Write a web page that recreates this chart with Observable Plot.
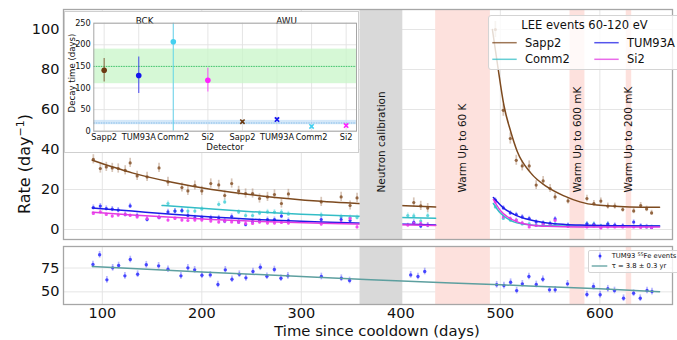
<!DOCTYPE html>
<html>
<head>
<meta charset="utf-8">
<script src="https://cdn.jsdelivr.net/npm/d3@7"></script>
<script src="https://cdn.jsdelivr.net/npm/@observablehq/plot@0.6"></script>
<style>
  html, body { margin: 0; padding: 0; background: #fff; }
  #fig { position: relative; width: 677px; height: 340px; overflow: hidden; font-family: "DejaVu Sans", sans-serif; color: #111; }
  #fig .abs { position: absolute; }
  #fig svg { display: block; overflow: visible; }
  .rot { transform: rotate(-90deg); transform-origin: 50% 50%; text-align: center; white-space: nowrap; }
</style>
</head>
<body>
<div id="fig"></div>
<script>
// ---------------- DATA ----------------
const xTicks = [100, 200, 300, 400, 500, 600];
const topYTicks = [0, 20, 40, 60, 80, 100];
const bottomYTicks = [50, 75];
const insetYTicks = [0, 50, 100, 150, 200, 250];

const legendTitle = "LEE events 60-120 eV";
const legendOrder = ["Sapp2", "Comm2", "TUM93A", "Si2"];

// shaded periods (days)
const neutronBand = [{label: "Neutron calibration", start: 359, end: 402}];
const warmBands = [
  {label: "Warm Up to 60 K", start: 435, end: 490},
  {label: "Warm Up to 600 mK", start: 570, end: 585},
  {label: "Warm Up to 200 mK", start: 626.5, end: 632}
];

// LEE rates before the 60 K warm-up
const preDays = [91, 98, 104, 110, 116, 123, 128, 135, 145, 157, 166, 173, 180, 186, 193, 200, 209, 217, 223, 230, 237, 244, 251, 258, 266, 273, 280, 287, 320, 340, 349, 356, 407, 413, 420, 427];
const sapp2Pre = [35.1, 30.5, 31.3, 30.8, 30.5, 29.6, 33.3, 26.8, 26.3, 30.8, 23.8, null, 21, 19.3, 22, 19.3, 23, 22.3, 17, 23, 19.3, 18, 18, 15.5, 16.3, 17.5, 13, 17.8, 13.8, 16.3, 12, 15.8, null, 13.5, 11.8, 10.7];
const comm2Pre = [null, null, null, null, null, null, null, null, null, null, 13, 9.2, 9.2, 9.2, 9.2, 10.3, null, 12.6, 13.8, null, 8.7, 7, 7, 8.2, 8.8, 8.7, 8.7, 7.8, 7.3, 6.3, 6, 6, 7, 6.8, 4.2, 7];
const tum93aPre = [11, 11.7, 10.5, 10.2, 9.7, 7.5, 11.8, 7, 5, 6, 8.8, 9.2, 9.5, 7, 5.8, 5.8, 5.8, 5.8, 4.2, 6.5, 3.8, 2.5, 4, 4.2, 5, 5, 6.7, 4.5, 5, 5, 4.5, null, null, 3.6, 1.7, 2.2];
const si2Pre = [8, 8.8, 7.5, 6.7, 7.2, 7.5, 7, 6.3, 5.5, 6, 4.7, 5.5, 4.7, 4.5, 4.7, 4.7, 4.2, 3.7, 4.2, 3.8, 3.6, 3, 3, 3.7, 3.2, 3.2, 3.5, 3.2, 2.7, 3.5, 5.5, 1.3, 2.2, 3, 3, 2.2];

// LEE rates after the 60 K warm-up
const postDays = [495, 503, 510, 516, 522, 529, 536, 543, 550, 555, 568, 587, 594, 601, 608, 615, 623, 634, 641, 647, 652];
const sapp2Post = [100, 59.6, 45.5, 34.6, 31.8, 31.8, 22.2, 24.3, 20.5, 16.3, 14.3, 15.5, 13, 14.2, 11.7, 11.7, 10, 9.3, 12, 10.3, 8.3];
const comm2Post = [11.3, 5.5, 4.7, 4.7, 2.8, 2.8, 2, 2.8, 2.8, 2.8, 2, 3, 2.8, 1.8, 2.8, 1.8, 1.5, 1.5, 1.5, 1.2, 1.2];
const tum93aPost = [14.7, 10.8, 8.3, 7.5, 6.3, 5.5, 3.8, 3.3, 3, 5.3, 2.2, 2.7, 2.5, 1.3, 2.7, 2.2, 1.8, 3.7, 1.8, 1.5, 1];
const si2Post = [13.8, 6.3, 5.5, 4.7, 3.3, 1.3, 2, 2.5, 2, 4.5, 1.5, 1.3, 1.8, 0.8, 1.3, 1.3, 1.3, 1.3, 1, 1.3, 1];

// error half-widths (rate units)
const preErr = {Sapp2: 2.3, Comm2: 1.3, TUM93A: 1.3, Si2: 1.0};
const postErr = {Comm2: 1.0, TUM93A: 1.1, Si2: 0.9};
const sapp2PostErr = [4, 3, 2.8, 2.5, 2.5, 2.5, 2.2, 2.2, 2, 1.8, 1.6, 1.6, 1.5, 1.5, 1.5, 1.5, 1.4, 1.4, 1.5, 1.4, 1.3];

// fitted decay curves
const fitPreDays = [90, 130, 170, 210, 260, 320, 380, 435];
const sapp2FitPre = [34.6, 28.3, 23.6, 20.0, 16.8, 14.1, 12.4, 11.3];
const tum93aFitPre = [10.8, 9.2, 7.6, 6.2, 4.9, 3.7, 2.9, 2.3];
const si2FitPre = [8.6, 7.3, 6.1, 5.0, 4.0, 3.1, 2.5, 2.0];
const comm2FitPreDays = [160, 200, 250, 300, 350, 400, 435];
const comm2FitPre = [12.0, 10.6, 8.9, 7.6, 6.7, 6.0, 5.6];

const sapp2FitPostDays = [492, 497, 503.6, 510.4, 517, 530.5, 547, 564, 580, 597, 630, 660];
const sapp2FitPost = [100, 83, 62, 49, 39, 28.3, 21.3, 16.8, 13.8, 12.2, 11.3, 11.1];
const tum93aFitPostDays = [493, 503.6, 513.7, 530.5, 547, 565, 580, 620, 660];
const tum93aFitPost = [16, 10.6, 7.6, 4.7, 3.2, 2.5, 2.2, 1.9, 1.8];
const si2FitPostDays = [493, 500, 506.7, 517, 530, 547, 580, 660];
const si2FitPost = [15, 9.5, 6.5, 3.8, 2.3, 1.6, 1.3, 1.3];
const comm2FitPostDays = [493, 500, 506, 513.5, 530, 547, 580, 660];
const comm2FitPost = [13, 8.2, 5.8, 3.8, 2.3, 1.9, 1.7, 1.7];

// 55Fe calibration events (TUM93)
const feDays = [90.6, 97.3, 104.6, 110.4, 116.4, 122.7, 128.1, 135.5, 144.2, 156.6, 166, 179, 186, 192.8, 200.1, 208.5, 216.2, 223.6, 230.3, 237.7, 244.3, 251.4, 258.8, 265.4, 272.9, 279.5, 286.5, 320.1, 340.2, 348.5, 409.9, 417.2, 424, 496.3, 503.6, 510.3, 516.4, 522.1, 528.7, 536.1, 542.7, 549.4, 555.1, 567.5, 587, 593.6, 600.3, 608, 614.7, 623.8, 633.9, 640.6, 647.4, 652.4];
const feRate = [78.7, 88.9, 62.6, 75.2, 77.6, 66.8, 83.9, 68.5, 78.4, 77.3, 73.7, 66.8, 75.2, 73.1, 67.4, 67.8, 57.7, 73.1, 63.2, 68.5, 64.7, 71.3, 75.8, 66.4, 73.4, 64.3, 66.8, 66.1, 64.3, 61.9, 67.8, 66.1, 71.3, 57.4, 56.6, 60.1, 51.3, 58.4, 66.1, 57.7, 63.2, 52.1, 52.1, 58.4, 47.2, 55.6, 46.9, 53.2, 51.4, 43.3, 48.5, 43.3, 51.4, 50.3];
const feErr = 3.5;
const feFitDays = [90, 200, 300, 370, 500, 600, 660];
const feFit = [76.6, 70.8, 66.2, 62.6, 57.4, 53.2, 50.0];
const feLegend = ["TUM93 ", "55", "Fe events"];
const feFitLegend = "τ = 3.8 ± 0.3 yr";

// inset: decay times
const detLabels = ["Sapp2", "TUM93A", "Comm2", "Si2", "Sapp2", "TUM93A", "Comm2", "Si2"];
const detPhase = ["BCK", "BCK", "BCK", "BCK", "AWU", "AWU", "AWU", "AWU"];
const decayTime = [141, 129, 207, 118, 22, 27, 11, 13];
const decayLow = [114, 87, 0, 91, 19, 23, 8, 10];
const decayHigh = [168, 172, 260, 146, 25, 31, 14, 16];
const phaseLabels = ["BCK", "AWU"];
const phaseLabelPos = [1.17, 5.28];
const bckBand = {lo: 110, hi: 190, mean: 150};
const awuBand = {lo: 15, hi: 25, mean: 19};

// ---------------- STYLE ----------------
const FONT = '"DejaVu Sans", sans-serif';
const GRID = "#e2e2e2";
const FRAME = "#a6a6a6";
const PINK = "#fde1dd";
const GRAY = "#d9d9d9";
const STYLE = {
  Sapp2:  {line: "#7d4a1f", point: "#8b5a33", inset: "#6b3a12"},
  Comm2:  {line: "#33bdc6", point: "#55d3da", inset: "#44d0f0"},
  TUM93A: {line: "#1c1ce6", point: "#2f2fff", inset: "#1414ee"},
  Si2:    {line: "#e23ae2", point: "#f040f0", inset: "#ff22ff"}
};
const FE_COLOR = "#3030ff";
const FE_FIT = "#5d9f9f";
const X_DOMAIN = [61, 673];

// ---------------- BUILD ROWS ----------------
function rows(days, vals, err) {
  return days.map((d, i) => ({day: d, rate: vals[i], err: Array.isArray(err) ? err[i] : err}))
             .filter(r => r.rate != null);
}
function curve(days, vals) { return days.map((d, i) => ({day: d, rate: vals[i]})); }

const detectors = [
  {name: "Sapp2", pts: rows(preDays, sapp2Pre, preErr.Sapp2).concat(rows(postDays, sapp2Post, sapp2PostErr)),
   fits: [curve(fitPreDays, sapp2FitPre), curve(sapp2FitPostDays, sapp2FitPost)]},
  {name: "Comm2", pts: rows(preDays, comm2Pre, preErr.Comm2).concat(rows(postDays, comm2Post, postErr.Comm2)),
   fits: [curve(comm2FitPreDays, comm2FitPre), curve(comm2FitPostDays, comm2FitPost)]},
  {name: "TUM93A", pts: rows(preDays, tum93aPre, preErr.TUM93A).concat(rows(postDays, tum93aPost, postErr.TUM93A)),
   fits: [curve(fitPreDays, tum93aFitPre), curve(tum93aFitPostDays, tum93aFitPost)]},
  {name: "Si2", pts: rows(preDays, si2Pre, preErr.Si2).concat(rows(postDays, si2Post, postErr.Si2)),
   fits: [curve(fitPreDays, si2FitPre), curve(si2FitPostDays, si2FitPost)]}
];
const allBands = neutronBand.concat(warmBands);

const fig = document.getElementById("fig");
function place(el, left, top) {
  el.classList.add("abs");
  el.style.left = left + "px";
  el.style.top = top + "px";
  fig.appendChild(el);
  return el;
}

// ---------------- TOP PANEL ----------------
const topMarks = [
  Plot.ruleX(xTicks, {stroke: GRID, strokeWidth: 0.9}),
  Plot.ruleY(topYTicks, {stroke: GRID, strokeWidth: 0.9}),
  Plot.rect(warmBands, {x1: "start", x2: "end", fill: PINK})
];
for (const d of detectors) {
  const s = STYLE[d.name];
  topMarks.push(
    Plot.ruleX(d.pts, {x: "day", y1: r => r.rate - r.err, y2: r => r.rate + r.err, stroke: s.point, strokeOpacity: 0.35, strokeWidth: 1.7}),
    Plot.dot(d.pts, {x: "day", y: "rate", r: 1.6, fill: s.point, fillOpacity: 0.9, stroke: "none"})
  );
}
for (const d of detectors) {
  const s = STYLE[d.name];
  for (const f of d.fits) {
    topMarks.push(Plot.line(f, {x: "day", y: "rate", stroke: s.line, strokeWidth: 1.5, curve: "monotone-x"}));
  }
}
topMarks.push(
  Plot.rect(neutronBand, {x1: "start", x2: "end", fill: GRAY}),
  Plot.text(allBands, {x: b => (b.start + b.end) / 2, frameAnchor: "bottom", dy: -47, rotate: -90,
    textAnchor: "start", lineAnchor: "middle", text: "label", fontSize: 10.5, fill: "#151515"}),
  Plot.frame({stroke: FRAME, strokeWidth: 1.3})
);

const topChart = Plot.plot({
  width: 677, height: 240,
  marginLeft: 63, marginRight: 5, marginTop: 9, marginBottom: 1,
  x: {domain: X_DOMAIN, axis: null},
  y: {domain: [-5, 110], ticks: topYTicks, tickSize: 0, tickPadding: 4, label: null},
  style: {fontFamily: FONT, fontSize: "14.5px", background: "transparent", color: "#111"},
  marks: topMarks
});
place(topChart, 0, 0);

// ---------------- BOTTOM PANEL ----------------
const feRows = rows(feDays, feRate, feErr);
const bottomChart = Plot.plot({
  width: 677, height: 100,
  marginLeft: 63, marginRight: 5, marginTop: 6, marginBottom: 36,
  x: {domain: X_DOMAIN, ticks: xTicks, tickSize: 0, tickPadding: 3, label: null},
  y: {domain: [36.7, 97.6], ticks: bottomYTicks, tickSize: 0, tickPadding: 4, label: null},
  style: {fontFamily: FONT, fontSize: "14.5px", background: "transparent", color: "#111"},
  marks: [
    Plot.ruleX(xTicks, {stroke: GRID, strokeWidth: 0.9}),
    Plot.ruleY(bottomYTicks, {stroke: GRID, strokeWidth: 0.9}),
    Plot.rect(warmBands, {x1: "start", x2: "end", fill: PINK}),
    Plot.rect(neutronBand, {x1: "start", x2: "end", fill: GRAY}),
    Plot.ruleX(feRows, {x: "day", y1: r => r.rate - r.err, y2: r => r.rate + r.err, stroke: FE_COLOR, strokeOpacity: 0.35, strokeWidth: 1.7}),
    Plot.dot(feRows, {x: "day", y: "rate", r: 1.7, fill: FE_COLOR, fillOpacity: 0.85, stroke: "none"}),
    Plot.line(curve(feFitDays, feFit), {x: "day", y: "rate", stroke: FE_FIT, strokeWidth: 1.5, curve: "monotone-x"}),
    Plot.frame({stroke: FRAME, strokeWidth: 1.3})
  ]
});
place(bottomChart, 0, 240);

// ---------------- AXIS TITLES ----------------
const yTitle = document.createElement("div");
yTitle.className = "rot";
yTitle.style.cssText += "width:200px;height:20px;line-height:20px;font-size:16px;";
yTitle.innerHTML = "Rate (day<sup style=\"font-size:11px;vertical-align:6px;line-height:0\">−1</sup>)";
place(yTitle, 25 - 100, 164 - 10);

const xTitle = document.createElement("div");
xTitle.style.cssText = "width:300px;height:16px;line-height:16px;font-size:14.8px;text-align:center;white-space:nowrap;";
xTitle.textContent = "Time since cooldown (days)";
place(xTitle, 377 - 150, 323);

// ---------------- TOP LEGEND ----------------
const leg = document.createElement("div");
leg.style.cssText = "width:200px;height:55px;background:rgba(255,255,255,0.8);border:1px solid #d4d4d4;border-radius:3px;box-sizing:border-box;";
place(leg, 488, 15);
const lsvg = d3.select(leg).append("svg").attr("width", 200).attr("height", 55)
  .style("position", "absolute").style("left", "-1px").style("top", "-1px")
  .style("font-family", FONT).style("font-size", "11.5px");
lsvg.append("text").attr("x", 96.5).attr("y", 9.5).attr("text-anchor", "middle")
  .attr("dominant-baseline", "central").attr("fill", "#111").text(legendTitle);
legendOrder.forEach((name, i) => {
  const col = Math.floor(i / 2), row = i % 2;
  const x0 = 4.3 + col * 102, y0 = 27.7 + row * 16.6;
  lsvg.append("line").attr("x1", x0).attr("x2", x0 + 24.4).attr("y1", y0).attr("y2", y0)
    .attr("stroke", STYLE[name].line).attr("stroke-width", 1.5).attr("stroke-opacity", 0.75);
  lsvg.append("text").attr("x", x0 + 32.7).attr("y", y0).attr("dominant-baseline", "central")
    .attr("fill", "#111").text(name);
});

// ---------------- BOTTOM LEGEND ----------------
const leg2 = document.createElement("div");
leg2.style.cssText = "width:100px;height:23px;background:rgba(255,255,255,0.8);border:1px solid #d4d4d4;border-radius:2px;box-sizing:border-box;";
place(leg2, 588, 250);
const l2 = d3.select(leg2).append("svg").attr("width", 100).attr("height", 23)
  .style("position", "absolute").style("left", "-1px").style("top", "-1px")
  .style("font-family", FONT).style("font-size", "6.8px");
l2.append("line").attr("x1", 12).attr("x2", 12).attr("y1", 2.5).attr("y2", 9.5)
  .attr("stroke", FE_COLOR).attr("stroke-opacity", 0.4).attr("stroke-width", 1.5);
l2.append("circle").attr("cx", 12).attr("cy", 6).attr("r", 1.5).attr("fill", FE_COLOR);
const t1 = l2.append("text").attr("x", 23.7).attr("y", 6).attr("dominant-baseline", "central").attr("fill", "#111");
t1.append("tspan").text(feLegend[0]);
t1.append("tspan").attr("font-size", "4.8px").attr("dy", "-2.2").text(feLegend[1]);
t1.append("tspan").attr("dy", "2.2").text(feLegend[2]);
l2.append("line").attr("x1", 3.7).attr("x2", 19.3).attr("y1", 16).attr("y2", 16)
  .attr("stroke", FE_FIT).attr("stroke-width", 1.3);
l2.append("text").attr("x", 23.7).attr("y", 16).attr("dominant-baseline", "central").attr("fill", "#111").text(feFitLegend);

// ---------------- INSET ----------------
const insetBox = document.createElement("div");
insetBox.style.cssText = "width:293px;height:140px;background:#fff;box-shadow:0 0 0 1px #cfcfcf;";
place(insetBox, 65, 12);

const detIdx = detLabels.map((_, i) => i);
const insetRows = detIdx.map(i => ({i, det: detLabels[i], phase: detPhase[i], t: decayTime[i], lo: decayLow[i], hi: decayHigh[i],
  color: STYLE[detLabels[i]].inset}));
const phaseRows = phaseLabels.map((p, k) => ({label: p, x: phaseLabelPos[k]}));

const insetChart = Plot.plot({
  width: 293, height: 140,
  marginLeft: 28.3, marginRight: 2, marginTop: 10.7, marginBottom: 21.3,
  x: {domain: [-0.3, 7.3], ticks: detIdx, tickFormat: i => detLabels[i], tickSize: 0, tickPadding: 2.5, label: null},
  y: {domain: [0, 250], ticks: insetYTicks, tickSize: 0, tickPadding: 3, label: null},
  color: {type: "identity"},
  style: {fontFamily: FONT, fontSize: "8.2px", background: "transparent", color: "#111"},
  marks: [
    Plot.ruleX(detIdx, {stroke: GRID, strokeWidth: 0.9}),
    Plot.ruleY(insetYTicks, {stroke: GRID, strokeWidth: 0.9}),
    Plot.rect([bckBand], {y1: "lo", y2: "hi", fill: "#c8f5c8", fillOpacity: 0.75}),
    Plot.ruleY([bckBand], {y: "mean", stroke: "#3cc46a", strokeWidth: 1, strokeDasharray: "1.5,1"}),
    Plot.rect([awuBand], {y1: "lo", y2: "hi", fill: "#c6e0f7", fillOpacity: 0.75}),
    Plot.ruleY([awuBand], {y: "mean", stroke: "#86bce8", strokeWidth: 1, strokeDasharray: "1.5,1"}),
    Plot.ruleX(insetRows, {x: "i", y1: "lo", y2: "hi", stroke: "color", strokeOpacity: 0.65, strokeWidth: 1.2, clip: true}),
    Plot.dot(insetRows.filter(r => r.phase === "BCK"), {x: "i", y: "t", r: 2.8, fill: "color", stroke: "none"}),
    Plot.dot(insetRows.filter(r => r.phase === "AWU"), {x: "i", y: "t", r: 2.1, symbol: "times", stroke: "color", strokeWidth: 1.6}),
    Plot.text(phaseRows, {x: "x", text: "label", frameAnchor: "top", dy: -5.4, fontSize: 8.8, fill: "#111"}),
    Plot.frame({stroke: FRAME, strokeWidth: 1})
  ]
});
insetChart.style.position = "absolute";
insetChart.style.left = "0px";
insetChart.style.top = "0px";
insetBox.appendChild(insetChart);

const insetY = document.createElement("div");
insetY.className = "rot";
insetY.style.cssText += "width:120px;height:12px;line-height:12px;font-size:8.6px;";
insetY.textContent = "Decay time (days)";
insetY.style.position = "absolute";
insetY.style.left = (6.5 - 60) + "px";
insetY.style.top = (61 - 6) + "px";
insetBox.appendChild(insetY);

const insetX = document.createElement("div");
insetX.style.cssText = "position:absolute;width:100px;height:12px;line-height:12px;font-size:8.6px;text-align:center;";
insetX.textContent = "Detector";
insetX.style.left = (160 - 50) + "px";
insetX.style.top = (134.5 - 6) + "px";
insetBox.appendChild(insetX);
</script>
</body>
</html>
